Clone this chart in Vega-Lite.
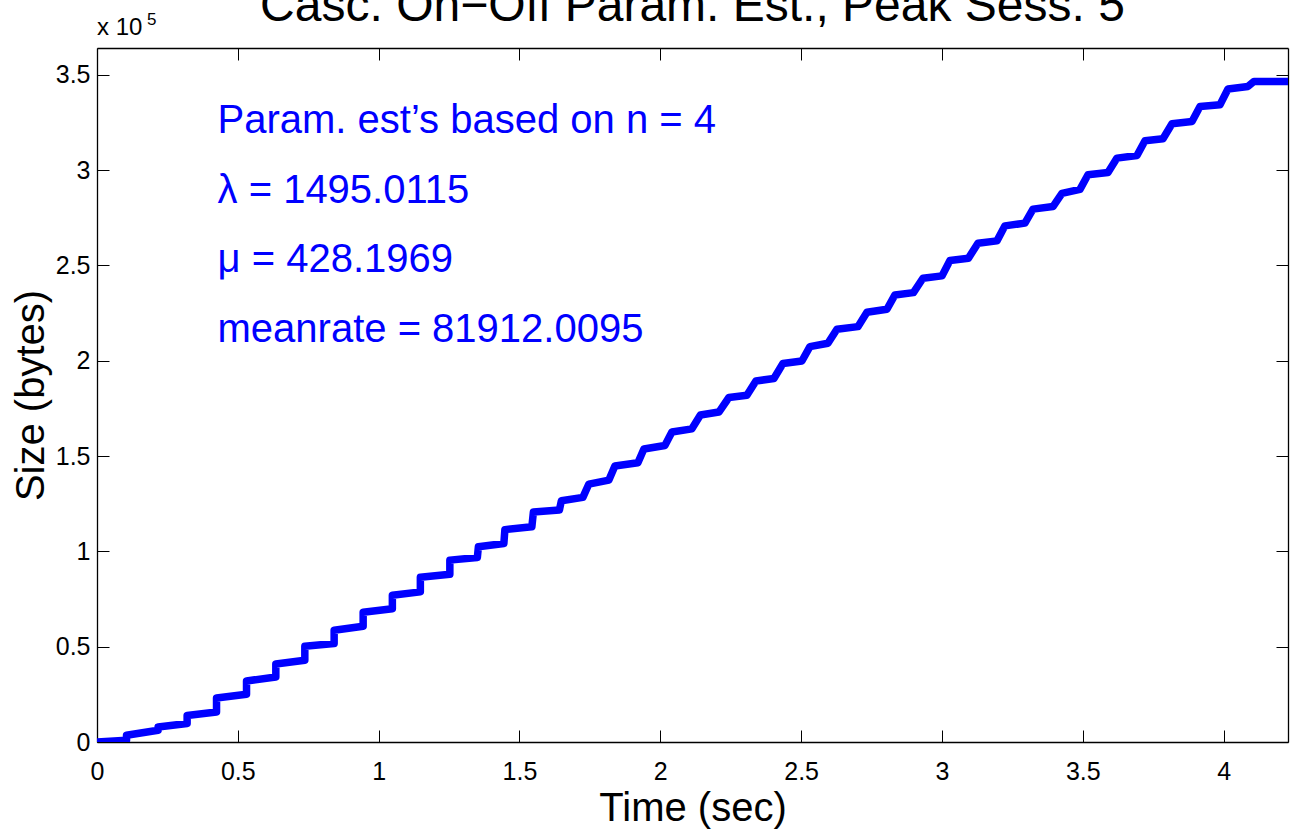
{
  "$schema": "https://vega.github.io/schema/vega-lite/v6.json",
  "autosize": {"type": "none"},
  "width": 1191,
  "height": 694,
  "padding": {"left": 97, "top": 48, "right": 2, "bottom": 87},
  "background": "white",
  "config": {
    "font": "Liberation Sans",
    "view": {"stroke": null},
    "axis": {
      "grid": false,
      "domainColor": "black",
      "domainWidth": 1.3,
      "tickColor": "black",
      "tickWidth": 1,
      "tickSize": -12,
      "labelColor": "black",
      "labelFont": "Liberation Sans",
      "labelFontSize": 25,
      "labelFlush": false,
      "titleColor": "black",
      "titleFont": "Liberation Sans",
      "titleFontSize": 40,
      "titleFontWeight": "normal"
    }
  },
  "title": {
    "text": "Casc. On−Off Param. Est., Peak Sess. 5",
    "font": "Liberation Sans",
    "fontSize": 48,
    "fontWeight": "normal",
    "color": "black",
    "anchor": "middle",
    "frame": "group",
    "baseline": "alphabetic",
    "offset": -58
  },
  "data": {
    "values": [
      {"i": 0, "t": 0, "b": 0},
      {"i": 1, "t": 0.1048, "b": 892},
      {"i": 2, "t": 0.1048, "b": 3517},
      {"i": 3, "t": 0.2170, "b": 6142},
      {"i": 4, "t": 0.2170, "b": 7875},
      {"i": 5, "t": 0.3200, "b": 9660},
      {"i": 6, "t": 0.3200, "b": 13860},
      {"i": 7, "t": 0.4244, "b": 15750},
      {"i": 8, "t": 0.4244, "b": 23100},
      {"i": 9, "t": 0.5309, "b": 25043},
      {"i": 10, "t": 0.5309, "b": 32025},
      {"i": 11, "t": 0.6349, "b": 34125},
      {"i": 12, "t": 0.6349, "b": 40950},
      {"i": 13, "t": 0.7379, "b": 42893},
      {"i": 14, "t": 0.7379, "b": 50243},
      {"i": 15, "t": 0.8420, "b": 51660},
      {"i": 16, "t": 0.8420, "b": 58643},
      {"i": 17, "t": 0.9450, "b": 60743},
      {"i": 18, "t": 0.9450, "b": 68093},
      {"i": 19, "t": 1.0487, "b": 69930},
      {"i": 20, "t": 1.0487, "b": 77018},
      {"i": 21, "t": 1.1481, "b": 78750},
      {"i": 22, "t": 1.1481, "b": 86468},
      {"i": 23, "t": 1.2528, "b": 87938},
      {"i": 24, "t": 1.2528, "b": 95393},
      {"i": 25, "t": 1.3505, "b": 96810},
      {"i": 26, "t": 1.3541, "b": 102375},
      {"i": 27, "t": 1.4446, "b": 104160},
      {"i": 28, "t": 1.4482, "b": 111405},
      {"i": 29, "t": 1.5440, "b": 112875},
      {"i": 30, "t": 1.5494, "b": 120593},
      {"i": 31, "t": 1.6417, "b": 121643},
      {"i": 32, "t": 1.6488, "b": 126525},
      {"i": 33, "t": 1.7251, "b": 128310},
      {"i": 34, "t": 1.7464, "b": 135293},
      {"i": 35, "t": 1.8175, "b": 137393},
      {"i": 36, "t": 1.8388, "b": 144743},
      {"i": 37, "t": 1.9205, "b": 146475},
      {"i": 38, "t": 1.9418, "b": 153668},
      {"i": 39, "t": 2.0163, "b": 155505},
      {"i": 40, "t": 2.0412, "b": 162593},
      {"i": 41, "t": 2.1122, "b": 164273},
      {"i": 42, "t": 2.1424, "b": 171518},
      {"i": 43, "t": 2.2081, "b": 173093},
      {"i": 44, "t": 2.2436, "b": 180705},
      {"i": 45, "t": 2.3075, "b": 181860},
      {"i": 46, "t": 2.3395, "b": 189368},
      {"i": 47, "t": 2.4034, "b": 190680},
      {"i": 48, "t": 2.4354, "b": 198555},
      {"i": 49, "t": 2.5028, "b": 199868},
      {"i": 50, "t": 2.5312, "b": 207375},
      {"i": 51, "t": 2.5952, "b": 209160},
      {"i": 52, "t": 2.6271, "b": 216510},
      {"i": 53, "t": 2.7017, "b": 217875},
      {"i": 54, "t": 2.7337, "b": 225435},
      {"i": 55, "t": 2.8047, "b": 227010},
      {"i": 56, "t": 2.8331, "b": 234518},
      {"i": 57, "t": 2.8988, "b": 235725},
      {"i": 58, "t": 2.9325, "b": 243285},
      {"i": 59, "t": 3.0000, "b": 244493},
      {"i": 60, "t": 3.0284, "b": 252525},
      {"i": 61, "t": 3.0941, "b": 253785},
      {"i": 62, "t": 3.1278, "b": 261660},
      {"i": 63, "t": 3.1953, "b": 262868},
      {"i": 64, "t": 3.2237, "b": 270743},
      {"i": 65, "t": 3.2947, "b": 272160},
      {"i": 66, "t": 3.3232, "b": 279510},
      {"i": 67, "t": 3.3942, "b": 280875},
      {"i": 68, "t": 3.4261, "b": 287805},
      {"i": 69, "t": 3.4901, "b": 289905},
      {"i": 70, "t": 3.5185, "b": 297518},
      {"i": 71, "t": 3.5895, "b": 298725},
      {"i": 72, "t": 3.6215, "b": 306285},
      {"i": 73, "t": 3.6925, "b": 307650},
      {"i": 74, "t": 3.7209, "b": 315368},
      {"i": 75, "t": 3.7848, "b": 316418},
      {"i": 76, "t": 3.8168, "b": 324293},
      {"i": 77, "t": 3.8878, "b": 325500},
      {"i": 78, "t": 3.9162, "b": 333375},
      {"i": 79, "t": 3.9872, "b": 334268},
      {"i": 80, "t": 4.0156, "b": 342510},
      {"i": 81, "t": 4.0866, "b": 343875},
      {"i": 82, "t": 4.1080, "b": 346500},
      {"i": 83, "t": 4.2287, "b": 346500}
    ]
  },
  "resolve": {"axis": {"x": "independent", "y": "independent"}},
  "layer": [
    {
      "mark": {"type": "line", "color": "#0000FF", "strokeWidth": 7.5, "strokeJoin": "round", "strokeCap": "round", "clip": true},
      "encoding": {
        "x": {
          "field": "t", "type": "quantitative",
          "scale": {"domain": [0, 4.2287], "nice": false, "zero": false},
          "axis": {"orient": "bottom", "values": [0, 0.5, 1, 1.5, 2, 2.5, 3, 3.5, 4], "format": "~g", "labelPadding": 29, "title": "Time (sec)", "titlePadding": 4}
        },
        "y": {
          "field": "b", "type": "quantitative",
          "scale": {"domain": [0, 364035], "nice": false},
          "axis": {"orient": "left", "values": [0, 50000, 100000, 150000, 200000, 250000, 300000, 350000], "labelExpr": "format(datum.value / 100000, '~g')", "labelPadding": 19, "title": "Size (bytes)", "titlePadding": 4}
        },
        "order": {"field": "i", "type": "quantitative"}
      }
    },
    {
      "data": {"values": [{"label": "x 10"}]},
      "mark": {"type": "text", "align": "left", "baseline": "alphabetic", "fontSize": 24, "color": "black", "dy": -13},
      "encoding": {
        "x": {"datum": 0, "type": "quantitative", "axis": {"orient": "top", "values": [0, 0.5, 1, 1.5, 2, 2.5, 3, 3.5, 4], "labels": false, "title": null}},
        "y": {"datum": 364035, "type": "quantitative", "axis": {"orient": "right", "values": [0, 50000, 100000, 150000, 200000, 250000, 300000, 350000], "labels": false, "title": null}},
        "text": {"field": "label"}
      }
    },
    {
      "data": {"values": [{"label": "5"}]},
      "mark": {"type": "text", "align": "left", "baseline": "alphabetic", "fontSize": 17, "color": "black", "dx": 50, "dy": -23},
      "encoding": {
        "x": {"datum": 0, "type": "quantitative", "axis": null},
        "y": {"datum": 364035, "type": "quantitative", "axis": null},
        "text": {"field": "label"}
      }
    },
    {
      "data": {"values": [{"label": "Param. est’s based on n = 4"}]},
      "mark": {"type": "text", "align": "left", "baseline": "alphabetic", "fontSize": 40, "color": "#0000FF"},
      "encoding": {
        "x": {"datum": 0.428, "type": "quantitative", "axis": null},
        "y": {"datum": 319500, "type": "quantitative", "axis": null},
        "text": {"field": "label"}
      }
    },
    {
      "data": {"values": [{"label": "λ = 1495.0115"}]},
      "mark": {"type": "text", "align": "left", "baseline": "alphabetic", "fontSize": 40, "color": "#0000FF"},
      "encoding": {
        "x": {"datum": 0.428, "type": "quantitative", "axis": null},
        "y": {"datum": 282800, "type": "quantitative", "axis": null},
        "text": {"field": "label"}
      }
    },
    {
      "data": {"values": [{"label": "μ = 428.1969"}]},
      "mark": {"type": "text", "align": "left", "baseline": "alphabetic", "fontSize": 40, "color": "#0000FF"},
      "encoding": {
        "x": {"datum": 0.428, "type": "quantitative", "axis": null},
        "y": {"datum": 246300, "type": "quantitative", "axis": null},
        "text": {"field": "label"}
      }
    },
    {
      "data": {"values": [{"label": "meanrate = 81912.0095"}]},
      "mark": {"type": "text", "align": "left", "baseline": "alphabetic", "fontSize": 40, "color": "#0000FF"},
      "encoding": {
        "x": {"datum": 0.428, "type": "quantitative", "axis": null},
        "y": {"datum": 209800, "type": "quantitative", "axis": null},
        "text": {"field": "label"}
      }
    }
  ]
}
